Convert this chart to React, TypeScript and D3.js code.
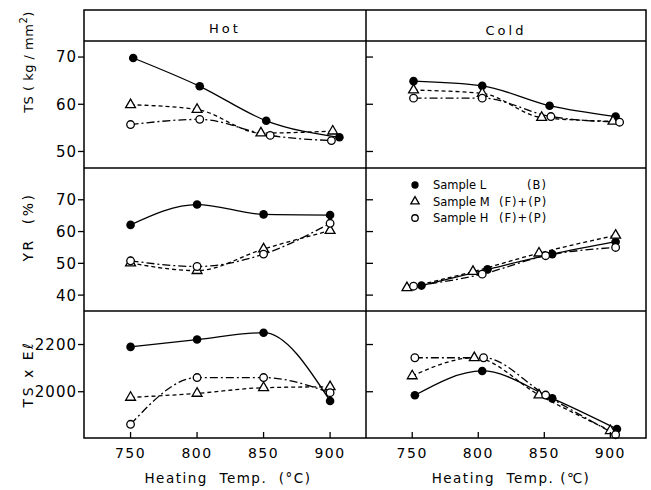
import React, { useRef, useEffect } from 'react';
import * as d3 from 'd3';

// heating temperatures (deg C)
const temps = [750, 800, 850, 900];

// tensile strength TS (kg/mm2)
const hotTsL = [69.8, 63.8, 56.5, 53.0];
const hotTsM = [59.9, 58.9, 53.9, 54.3];
const hotTsH = [55.7, 56.8, 53.4, 52.3];
const coldTsL = [64.9, 63.9, 59.7, 57.4];
const coldTsM = [63.0, 62.3, 57.2, 56.4];
const coldTsH = [61.3, 61.3, 57.4, 56.2];

// yield ratio YR (%)
const hotYrL = [62.1, 68.5, 65.4, 65.2];
const hotYrM = [50.1, 47.7, 54.5, 60.3];
const hotYrH = [50.8, 49.0, 52.9, 62.6];
const coldYrL = [43.0, 48.1, 52.9, 56.8];
const coldYrM = [42.3, 47.4, 53.2, 58.8];
const coldYrH = [42.8, 46.6, 52.4, 55.0];

// TS x El
const hotTeL = [2190, 2221, 2250, 1961];
const hotTeM = [1976, 1993, 2017, 2021];
const hotTeH = [1862, 2060, 2060, 1996];
const coldTeL = [1985, 2088, 1972, 1842];
const coldTeM = [2067, 2144, 1986, 1835];
const coldTeH = [2144, 2144, 1986, 1818];

// measured temperatures where the plotted points sit a little off nominal
const hotTsLT = [752, 802, 852, 907];
const hotTsMT = [750, 800, 848, 902];
const hotTsHT = [750, 802, 855, 901];
const coldTsLT = [751, 803, 854, 904];
const coldTsMT = [751, 803, 848, 902];
const coldTsHT = [751, 803, 855, 907];
const coldYrLT = [757, 807, 856, 904];
const coldYrMT = [746, 796, 846, 904];
const coldYrHT = [751, 803, 851, 904];
const coldTeLT = [752, 803, 856, 905];
const coldTeMT = [750, 797, 846, 900];
const coldTeHT = [752, 804, 851, 904];

const tsTicks = [50, 60, 70];
const yrTicks = [40, 50, 60, 70];
const teTicks = [2000, 2200];
const xTicks = [750, 800, 850, 900];

const legendNames = ['Sample L', 'Sample M', 'Sample H'];
const legendPhases = ['(B)', '(F)+(P)', '(F)+(P)'];

const FONT = 'DejaVu Sans, sans-serif';

const App = () => {
  const svgRef = useRef(null);

  useEffect(() => {
    const svg = d3.select(svgRef.current);
    svg.selectAll('*').remove();

    const fr = { left: 84, mid: 366, right: 646, top: 10, head: 41 };
    const rows = [
      { top: 41, bottom: 168, domain: [46.5, 73.4], ticks: tsTicks,
        hot: [[hotTsL, hotTsLT], [hotTsM, hotTsMT], [hotTsH, hotTsHT]],
        cold: [[coldTsL, coldTsLT], [coldTsM, coldTsMT], [coldTsH, coldTsHT]] },
      { top: 168, bottom: 311, domain: [35, 80], ticks: yrTicks,
        hot: [[hotYrL, temps], [hotYrM, temps], [hotYrH, temps]],
        cold: [[coldYrL, coldYrLT], [coldYrM, coldYrMT], [coldYrH, coldYrHT]] },
      { top: 311, bottom: 438, domain: [1804, 2342], ticks: teTicks,
        hot: [[hotTeL, temps], [hotTeM, temps], [hotTeH, temps]],
        cold: [[coldTeL, coldTeLT], [coldTeM, coldTeMT], [coldTeH, coldTeHT]] },
    ];

    const xHot = d3.scaleLinear().domain([715, 927]).range([fr.left, fr.mid]);
    const xCold = d3.scaleLinear().domain([715, 927]).range([fr.mid, fr.right]);

    const dashes = [null, '4,3', '8,3,2,3'];
    const sw = 1.3;

    const drawMarker = (g, k, cx, cy, scale = 1) => {
      if (k === 0) {
        g.append('circle').attr('cx', cx).attr('cy', cy).attr('r', 4.3 * scale).attr('fill', '#000');
      } else if (k === 1) {
        g.append('path')
          .attr('d', d3.symbol(d3.symbolTriangle, 42 * scale * scale)())
          .attr('transform', `translate(${cx},${cy})`)
          .attr('fill', '#fff').attr('stroke', '#000').attr('stroke-width', sw);
      } else {
        g.append('circle').attr('cx', cx).attr('cy', cy).attr('r', 3.8 * scale)
          .attr('fill', '#fff').attr('stroke', '#000').attr('stroke-width', sw);
      }
    };

    rows.forEach(row => {
      const y = d3.scaleLinear().domain(row.domain).range([row.bottom, row.top]);

      [[row.hot, xHot], [row.cold, xCold]].forEach(([series, x]) => {
        const line = d3.line().x(d => x(d.t)).y(d => y(d.v)).curve(d3.curveMonotoneX);
        const g = svg.append('g');
        series.forEach(([vals, ts], k) => {
          const pts = vals.map((v, i) => ({ v, t: ts[i] }));
          g.append('path').attr('d', line(pts)).attr('fill', 'none')
            .attr('stroke', '#000').attr('stroke-width', sw)
            .attr('stroke-dasharray', dashes[k]);
        });
        series.forEach(([vals, ts], k) => {
          vals.forEach((v, i) => drawMarker(g, k, x(ts[i]), y(v)));
        });
      });

      // y ticks: outward on the left frame, inward on the divider
      row.ticks.forEach(t => {
        svg.append('line').attr('x1', fr.left - 6).attr('x2', fr.left)
          .attr('y1', y(t)).attr('y2', y(t)).attr('stroke', '#000').attr('stroke-width', sw);
        svg.append('line').attr('x1', fr.mid).attr('x2', fr.mid + 7)
          .attr('y1', y(t)).attr('y2', y(t)).attr('stroke', '#000').attr('stroke-width', sw);
        svg.append('text').attr('x', 77).attr('y', y(t)).attr('dy', '0.36em')
          .attr('text-anchor', 'end').attr('font-family', FONT).attr('font-size', 15)
          .attr('letter-spacing', 1).text(t);
      });
    });

    // x ticks
    [xHot, xCold].forEach(x => {
      xTicks.forEach(t => {
        svg.append('line').attr('x1', x(t)).attr('x2', x(t))
          .attr('y1', 438).attr('y2', 432).attr('stroke', '#000').attr('stroke-width', sw);
        svg.append('text').attr('x', x(t)).attr('y', 458).attr('text-anchor', 'middle')
          .attr('font-family', FONT).attr('font-size', 14).attr('letter-spacing', 1.5).text(t);
      });
    });

    // frame
    const frame = svg.append('g').attr('stroke', '#000').attr('stroke-width', 1.5).attr('fill', 'none');
    frame.append('rect').attr('x', fr.left).attr('y', fr.top)
      .attr('width', fr.right - fr.left).attr('height', 438 - fr.top);
    frame.append('line').attr('x1', fr.mid).attr('x2', fr.mid).attr('y1', fr.top).attr('y2', 438);
    [fr.head, 168, 311].forEach(yy => {
      frame.append('line').attr('x1', fr.left).attr('x2', fr.right).attr('y1', yy).attr('y2', yy);
    });

    // headers
    svg.append('text').attr('x', (fr.left + fr.mid) / 2).attr('y', 33).attr('text-anchor', 'middle')
      .attr('font-family', FONT).attr('font-size', 13).attr('letter-spacing', 3).text('Hot');
    svg.append('text').attr('x', (fr.mid + fr.right) / 2).attr('y', 35).attr('text-anchor', 'middle')
      .attr('font-family', FONT).attr('font-size', 13).attr('letter-spacing', 3).text('Cold');

    // x titles
    svg.append('text').attr('x', 228).attr('y', 483).attr('text-anchor', 'middle')
      .attr('font-family', FONT).attr('font-size', 13.5).attr('letter-spacing', 1.5)
      .attr('xml:space', 'preserve').text('Heating  Temp.  (°C)');
    svg.append('text').attr('x', 511).attr('y', 483).attr('text-anchor', 'middle')
      .attr('font-family', FONT).attr('font-size', 13.5).attr('letter-spacing', 1.5)
      .attr('xml:space', 'preserve').text('Heating  Temp. (℃)');

    // y titles
    const yTitle = (cy, size, spacing, build) => {
      const t = svg.append('text').attr('transform', `translate(33,${cy}) rotate(-90)`)
        .attr('text-anchor', 'middle').attr('font-family', FONT).attr('font-size', size)
        .attr('letter-spacing', spacing).attr('xml:space', 'preserve');
      build(t);
    };
    yTitle(62, 13, 0.5, t => {
      t.append('tspan').text('TS ( kg / mm');
      t.append('tspan').attr('dy', -6).attr('font-size', 10).text('2');
      t.append('tspan').attr('dy', 6).text(')');
    });
    yTitle(227, 14, 2.5, t => t.text('YR  (%)'));
    yTitle(374, 14, 2.5, t => t.text('TS x Eℓ'));

    // legend
    const lg = svg.append('g');
    legendNames.forEach((name, k) => {
      const cy = 185 + k * 16.5;
      drawMarker(lg, k, 415, cy, 0.85);
      lg.append('text').attr('x', 433).attr('y', cy).attr('dy', '0.36em')
        .attr('font-family', FONT).attr('font-size', 11.5).text(name);
      lg.append('text').attr('x', k === 0 ? 527 : 499).attr('y', cy).attr('dy', '0.36em')
        .attr('font-family', FONT).attr('font-size', 11.5).attr('letter-spacing', 1).text(legendPhases[k]);
    });
  }, []);

  return (
    <div style={{ width: 651, height: 490 }}>
      <svg ref={svgRef} width={651} height={490} style={{ position: 'absolute', left: 0, top: 0, background: '#fff' }} />
    </div>
  );
};

export default App;
